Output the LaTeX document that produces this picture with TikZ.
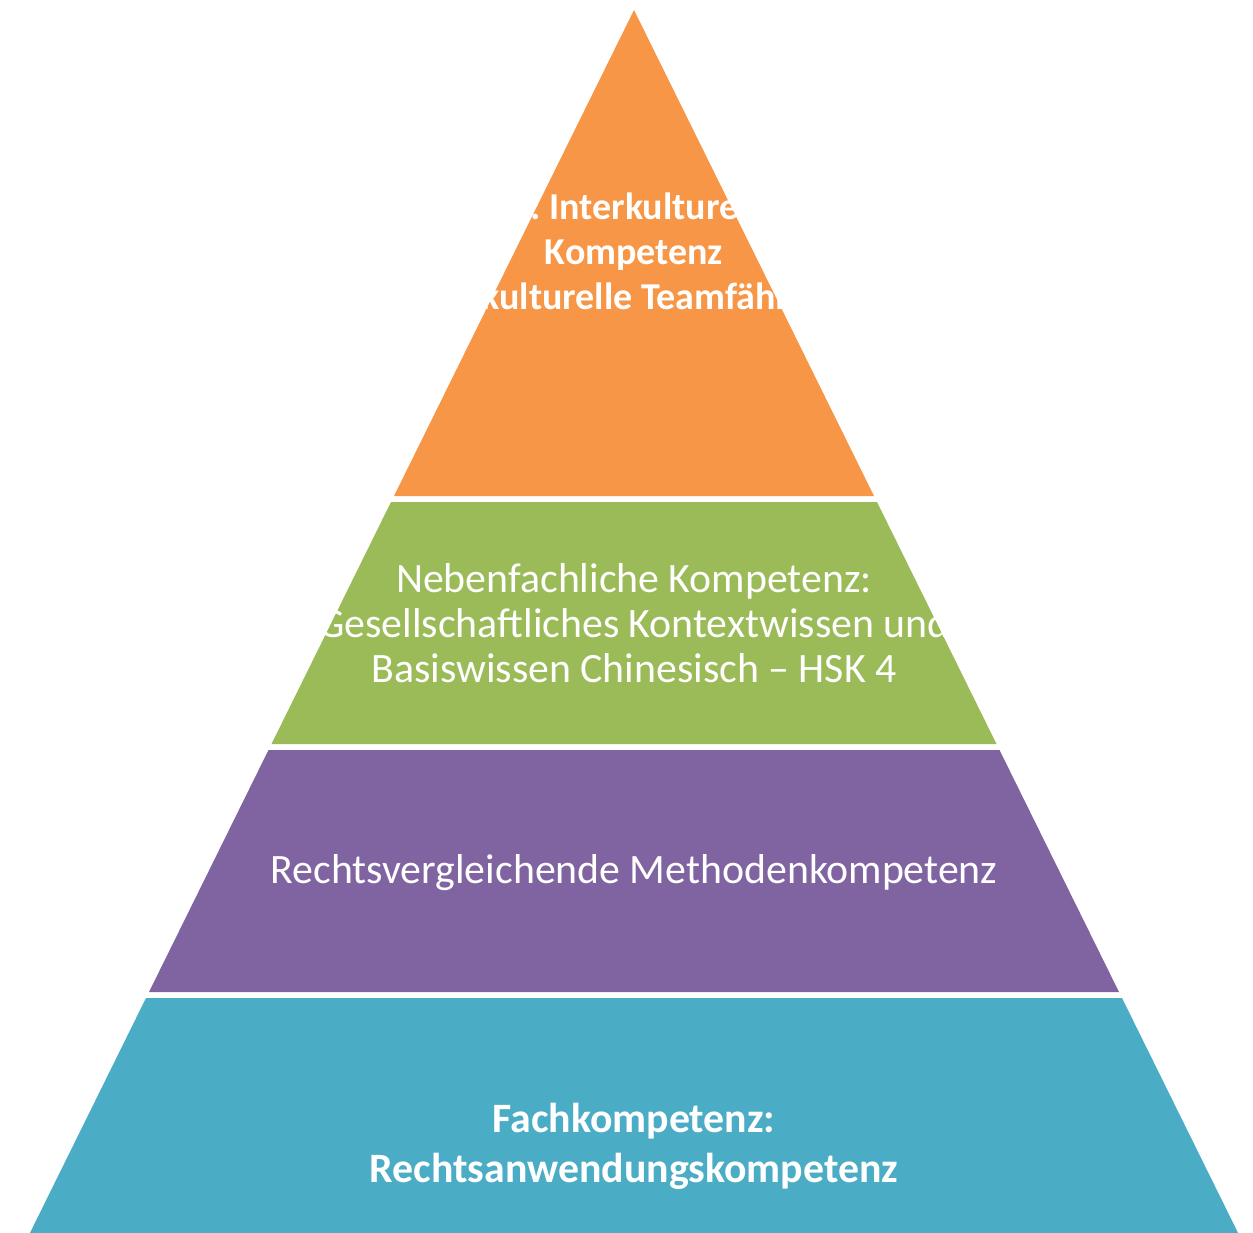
\documentclass[tikz,border=0pt]{standalone}
\usepackage{fontspec}
\setmainfont{Carlito}
\definecolor{porange}{HTML}{F79646}
\definecolor{pgreen}{HTML}{9BBB59}
\definecolor{ppurple}{HTML}{8064A2}
\definecolor{pteal}{HTML}{4BACC6}
\begin{document}
\begin{tikzpicture}[x=1pt,y=-1pt,
  lbl/.style={text=white,align=center,font=\fontsize{41.8}{45}\selectfont},
  lblb/.style={lbl,font=\fontsize{38}{45}\selectfont\bfseries},
  lblc/.style={lbl,font=\fontsize{41.8}{50}\selectfont\bfseries}]
\useasboundingbox (0,0) rectangle (1253,1233);
\clip (0,0) rectangle (1253,1233);
% xL(y)=634-0.49387*(y-10)
\fill[porange] (634,10) -- (874.0,496) -- (394.0,496) -- cycle;
\fill[pgreen] (391.0,502) -- (877.0,502) -- (996.5,744) -- (271.5,744) -- cycle;
\fill[ppurple] (268.5,750) -- (999.5,750) -- (1119.0,992) -- (149.0,992) -- cycle;
\fill[pteal] (146.0,998) -- (1122.0,998) -- (1245.0,1247) -- (23.0,1247) -- cycle;
\node[lblb] (t1) at (634,254) {SK: Interkulturelle\\Kompetenz\\Interkulturelle Teamfähigkeit};
\node[lbl] (t2) at (634,623) {Nebenfachliche Kompetenz:\\Gesellschaftliches Kontextwissen und\\Basiswissen Chinesisch – HSK 4};
\node[lbl] (t3) at (634,873) {Rechtsvergleichende Methodenkompetenz};
\node[lblc] (t4) at (634,1146) {Fachkompetenz:\\Rechtsanwendungskompetenz};
\end{tikzpicture}
\end{document}
